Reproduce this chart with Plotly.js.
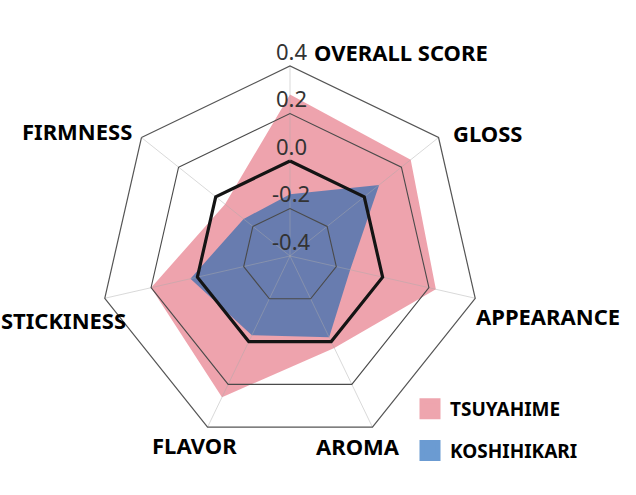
<!DOCTYPE html>
<html><head><meta charset="utf-8">
<script src="https://cdn.plot.ly/plotly-3.0.1.min.js"></script>
<style>html,body{margin:0;padding:0;background:#fff}</style>
</head><body><div id="chart" style="width:636px;height:495px"></div>
<script>
// ---- data ----
const categories = ['OVERALL SCORE','GLOSS','APPEARANCE','AROMA','FLAVOR','STICKINESS','FIRMNESS'];
const tsuyahime = [0.28, 0.25, 0.23, 0.03, 0.26, 0.20, -0.05];
const koshihikari = [-0.14, 0.08, -0.14, -0.02, -0.03, 0.03, -0.15];
const standard = [0, 0, 0, 0, 0, 0, 0];
const tickVals = [-0.4, -0.2, 0, 0.2, 0.4];
const tickText = ['-0.4', '-0.2', '0.0', '0.2', '0.4'];
const seriesNames = ['TSUYAHIME', 'KOSHIHIKARI'];
const seriesColors = ['#eea5ae', '#6b9bd2'];

// ---- layout constants ----
const W = 636, H = 495;
const CX = 290, CY = 256, R = 190;           // polar centre and outer radius, px
const rRange = [-0.4, 0.4];
const labelPos = [[401,52],[487,133],[548,316],[358,446],[194,445],[63,320],[77,131]];

const close = a => a.concat([a[0]]);
const thetaClosed = close(categories);

const traces = [
  {type:'scatterpolar', subplot:'polar', r: close(tsuyahime), theta: thetaClosed, name: seriesNames[0],
   fill:'toself', fillcolor:'rgba(234,140,152,0.8)', line:{width:0, color:'rgba(0,0,0,0)'}, mode:'lines',
   showlegend:false, hoverinfo:'r+theta'},
  {type:'scatterpolar', subplot:'polar', r: close(koshihikari), theta: thetaClosed, name: seriesNames[1],
   fill:'toself', fillcolor:'rgba(74,116,176,0.82)', line:{width:0, color:'rgba(0,0,0,0)'}, mode:'lines',
   showlegend:false, hoverinfo:'r+theta'},
  {type:'scatterpolar', subplot:'polar2', r: close(standard), theta: thetaClosed, name:'standard',
   mode:'lines', line:{width:3.2, color:'#141414'}, showlegend:false, hoverinfo:'skip'}
];
// legend entries (square swatches, no drawn point)
seriesNames.forEach((n, i) => traces.push({
  type:'scatterpolar', subplot:'polar2', r: [null], theta: [categories[0]], mode:'markers', name: n,
  marker:{symbol:'square', size:16, color: seriesColors[i], line:{width:5, color: seriesColors[i]}},
  showlegend:true, legendgroup:'g'+i, hoverinfo:'skip'
}));

const rPix = v => (v - rRange[0]) / (rRange[1] - rRange[0]) * R;

const dom = {x:[(CX-R)/W, (CX+R)/W], y:[(H-CY-R)/H, (H-CY+R)/H]};
const baseAngular = {type:'category', categoryarray: categories, rotation:90, direction:'clockwise'};
const baseRadial = {range: rRange, tickvals: tickVals, showticklabels:false, ticks:'', showline:false};

const catAnn = categories.map((c, i) => ({
  xref:'paper', yref:'paper', x: labelPos[i][0]/W, y: 1 - labelPos[i][1]/H,
  xanchor:'center', yanchor:'middle', text: c, showarrow:false,
  font:{family:'Noto Sans, sans-serif', size:22, color:'#000', weight:'bold'}
}));
const tickAnn = tickVals.map((v, i) => ({
  xref:'paper', yref:'paper', x: (CX+1)/W, y: 1 - (CY - rPix(v) - 15)/H,
  xanchor:'center', yanchor:'middle', text: tickText[i], showarrow:false,
  font:{family:'Noto Sans, sans-serif', size:22, color:'#333'}
}));

const layout = {
  width: W, height: H,
  margin:{l:0, r:0, t:0, b:0},
  paper_bgcolor:'#fff',
  showlegend:true,
  legend:{x:410/W, y:1-390/H, xanchor:'left', yanchor:'top', tracegroupgap:14, itemwidth:30,
          font:{family:'Noto Sans, sans-serif', size:19, color:'#000', weight:'bold'}, bgcolor:'rgba(0,0,0,0)'},
  polar:{domain: dom, bgcolor:'rgba(0,0,0,0)', gridshape:'linear',
    angularaxis: Object.assign({}, baseAngular, {showgrid:false, showline:false, showticklabels:false, ticks:''}),
    radialaxis: Object.assign({}, baseRadial, {showgrid:false})},
  polar2:{domain: dom, bgcolor:'rgba(0,0,0,0)', gridshape:'linear',
    angularaxis: Object.assign({}, baseAngular, {showgrid:true, gridcolor:'rgba(170,170,170,0.45)', gridwidth:1,
      showline:true, linecolor:'#555', linewidth:1.2, showticklabels:false, ticks:''}),
    radialaxis: Object.assign({}, baseRadial, {showgrid:true, gridcolor:'#4a4a4a', gridwidth:1.1})},
  annotations: catAnn.concat(tickAnn)
};

Plotly.newPlot('chart', traces, layout, {displayModeBar:false, staticPlot:true});
</script>
</body></html>
